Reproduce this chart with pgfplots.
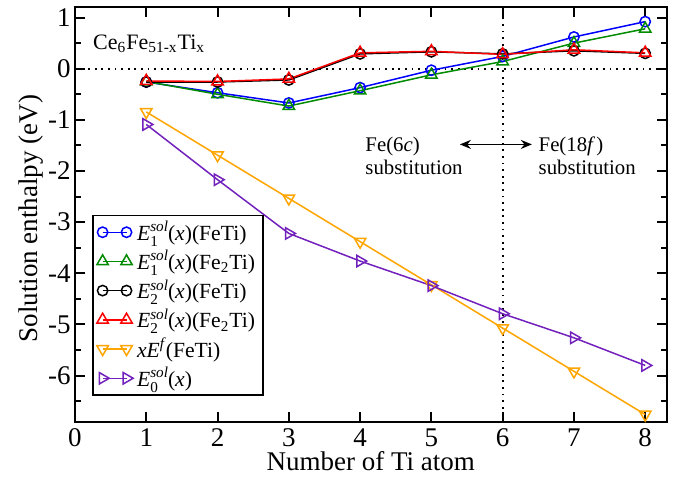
\documentclass[border=0pt]{standalone}
\usepackage{fontspec}
\setmainfont{Liberation Serif}
\usepackage{pgfplots}
\pgfplotsset{compat=1.18}
\usetikzlibrary{arrows.meta}
\definecolor{gblue}{RGB}{0,0,255}
\definecolor{ggreen}{RGB}{0,139,0}
\definecolor{gorange}{RGB}{255,165,0}
\definecolor{gindigo}{RGB}{114,33,188}
\definecolor{gred}{RGB}{255,0,0}
\newcommand\sm{\fontsize{7.6}{7.6}\selectfont}
\newcommand\Es[1]{\textit{E}\makebox[0pt][l]{\raisebox{-0.6ex}{\sm #1}}\raisebox{0.85ex}{\sm\textit{sol}}}
\newcommand\bigf{\fontsize{13.5}{16}\selectfont}
\begin{document}
\begin{tikzpicture}
\path[use as bounding box] (-37.5pt,-28.15pt) rectangle (301pt,210.85pt);
\begin{axis}[
  scale only axis, width=295.8pt, height=207.2pt,
  xmin=0, xmax=8.3, ymin=-6.9, ymax=1.2,
  axis line style={line width=1pt},
  tick style={line width=1pt, black},
  major tick length=5pt, minor tick length=3pt,
  tick align=inside,
  xtick={0,...,8}, xticklabels={0,1,2,3,4,5,6,7,8},
  ytick={-6,...,1}, yticklabels={-6,-5,-4,-3,-2,-1,0,1},
  minor ytick={-6.5,-5.5,...,0.5},
  tick label style={font=\bigf},
  yticklabel style={inner xsep=2pt},
  label style={font=\bigf},
  xlabel={Number of Ti atom}, ylabel={Solution enthalpy (eV)},
  xlabel style={at={(axis description cs:0.5,0)}, anchor=base, yshift=-24.15pt},
  ylabel style={at={(axis description cs:-0.0744,0.49)}, anchor=center},
  legend style={at={(axis cs:0.24,-2.857)}, anchor=north west, draw=black, line width=0.8pt,
    font=\fontsize{10.8}{13}\selectfont, row sep=0pt, inner xsep=2pt, inner ysep=1pt,
    nodes={inner ysep=1.8pt}},
  legend cell align=left,
  legend image code/.code={\draw[#1] plot coordinates {(0cm,0cm) (0.42cm,0cm)};},
  every axis plot/.append style={line width=0.75pt},
]
\draw[line width=0.9pt, dash pattern=on 0.9pt off 2.4pt] (axis cs:0,0) -- (axis cs:8.3,0);
\draw[line width=0.9pt, dash pattern=on 0.9pt off 2.4pt] (axis cs:6,-6.9) -- (axis cs:6,1.2);
\addplot[gblue, mark=o, mark size=2.6pt, mark options={solid, line width=0.75pt}] coordinates {
(1,-0.26) (2,-0.47) (3,-0.67) (4,-0.37) (5,-0.03) (6,0.24) (7,0.62) (8,0.92)};
\addlegendentry{\Es{1}(\textit{x})(FeTi)}
\addplot[ggreen, mark=triangle, mark size=3.3pt, mark options={solid, line width=0.75pt}] coordinates {
(1,-0.25) (2,-0.50) (3,-0.73) (4,-0.43) (5,-0.12) (6,0.14) (7,0.50) (8,0.78)};
\addlegendentry{\Es{1}(\textit{x})(Fe\textsubscript{2}Ti)}
\addplot[black, mark=o, mark size=2.6pt, mark options={solid, line width=0.75pt}] coordinates {
(1,-0.26) (2,-0.26) (3,-0.22) (4,0.29) (5,0.33) (6,0.29) (7,0.35) (8,0.30)};
\addlegendentry{\Es{2}(\textit{x})(FeTi)}
\addplot[gred, mark=triangle, mark size=3.3pt, mark options={solid, line width=0.75pt}] coordinates {
(1,-0.24) (2,-0.25) (3,-0.20) (4,0.31) (5,0.34) (6,0.28) (7,0.37) (8,0.31)};
\addlegendentry{\Es{2}(\textit{x})(Fe\textsubscript{2}Ti)}
\addplot[gorange, mark=triangle, mark size=3.3pt, mark options={solid, line width=0.75pt, rotate=180}] coordinates {
(1,-0.845) (2,-1.69) (3,-2.535) (4,-3.38) (5,-4.225) (6,-5.07) (7,-5.915) (8,-6.76)};
\addlegendentry{\textit{xE}\raisebox{0.85ex}{\sm\textit{f}}(FeTi)}
\addplot[gindigo, mark=triangle, mark size=3.3pt, mark options={solid, line width=0.75pt, rotate=-90}] coordinates {
(1,-1.09) (2,-2.17) (3,-3.22) (4,-3.76) (5,-4.24) (6,-4.79) (7,-5.26) (8,-5.80)};
\addlegendentry{\Es{0}(\textit{x})}
\node[anchor=base west, inner sep=0pt, font=\fontsize{11}{13}\selectfont] at (axis cs:0.25,0.38) {Ce\textsubscript{6}Fe\textsubscript{51-x}Ti\textsubscript{x}};
\node[anchor=base west, inner sep=0pt, font=\fontsize{10.4}{12}\selectfont] at (axis cs:4.07,-1.62) {Fe(6\textit{c})};
\node[anchor=base west, inner sep=0pt, font=\fontsize{10.4}{12}\selectfont] at (axis cs:4.07,-2.07) {substitution};
\node[anchor=base west, inner sep=0pt, font=\fontsize{10.4}{12}\selectfont] at (axis cs:6.5,-1.62) {Fe(18\textit{f\,})};
\node[anchor=base west, inner sep=0pt, font=\fontsize{10.4}{12}\selectfont] at (axis cs:6.5,-2.07) {substitution};
\draw[{Stealth[length=5.5pt,width=4.5pt]}-{Stealth[length=5.5pt,width=4.5pt]}, line width=0.75pt] (axis cs:5.40,-1.48) -- (axis cs:6.41,-1.48);
\end{axis}
\end{tikzpicture}
\end{document}
